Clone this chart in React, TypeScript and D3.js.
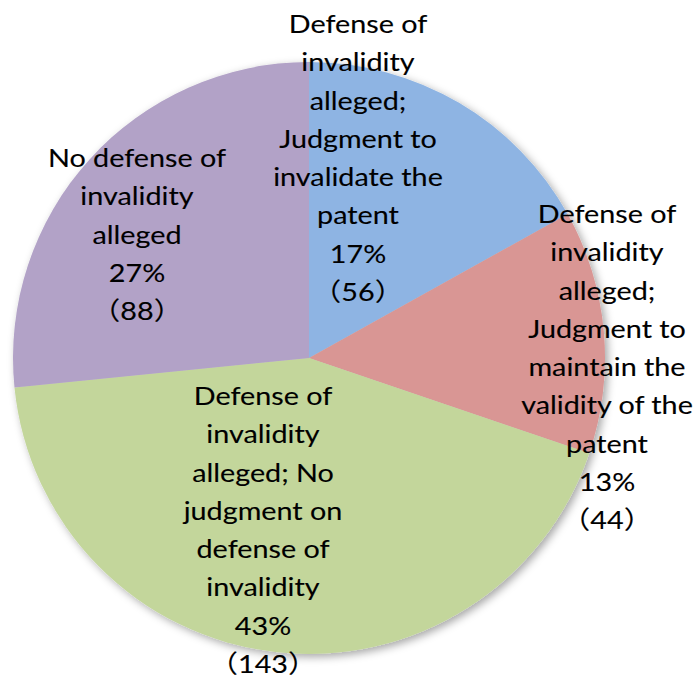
import { useEffect, useRef } from 'react';
import * as d3 from 'd3';

// slice data, clockwise from 12 o'clock
const categories = [
  'Defense of invalidity alleged; Judgment to invalidate the patent',
  'Defense of invalidity alleged; Judgment to maintain the validity of the patent',
  'Defense of invalidity alleged; No judgment on defense of invalidity',
  'No defense of invalidity alleged',
];
const counts = [56, 44, 143, 88];
const percents = ['17%', '13%', '43%', '27%'];
const labelLines = [
  ['Defense of', 'invalidity', 'alleged;', 'Judgment to', 'invalidate the', 'patent'],
  ['Defense of', 'invalidity', 'alleged;', 'Judgment to', 'maintain the', 'validity of the', 'patent'],
  ['Defense of', 'invalidity', 'alleged; No', 'judgment on', 'defense of', 'invalidity'],
  ['No defense of', 'invalidity', 'alleged'],
];
const colors = ['#8EB4E3', '#D99694', '#C3D69B', '#B2A2C7'];

// label anchors (center x, first baseline y)
const labelAnchors = [
  [358, 33],
  [607, 223],
  [263, 405],
  [137, 167],
];

const W = 698;
const H = 682;
const cx = 309;
const cy = 358;
const radius = 296;
const lineH = 38.3;

export default function App() {
  const svgRef = useRef<SVGSVGElement>(null);

  useEffect(() => {
    if (!svgRef.current) return;
    const svg = d3.select(svgRef.current);
    svg.selectAll('*').remove();

    const defs = svg.append('defs');
    const f = defs.append('filter').attr('id', 'shadow')
      .attr('x', '-10%').attr('y', '-10%').attr('width', '120%').attr('height', '120%');
    f.append('feDropShadow')
      .attr('dx', 3).attr('dy', 3).attr('stdDeviation', 4)
      .attr('flood-color', '#000').attr('flood-opacity', 0.35);

    const pie = d3.pie<number>().sort(null).value(d => d);
    const arcs = pie(counts);
    const arc = d3.arc<d3.PieArcDatum<number>>().innerRadius(0).outerRadius(radius);

    const g = svg.append('g').attr('transform', `translate(${cx},${cy})`);
    g.append('g').attr('filter', 'url(#shadow)')
      .selectAll('path')
      .data(arcs)
      .join('path')
      .attr('d', arc)
      .attr('fill', (d, i) => colors[i]);

    const labels = svg.append('g')
      .attr('font-family', "Lato, 'Noto Sans CJK JP', sans-serif")
      .attr('font-size', 25)
      .attr('fill', '#000')
      .attr('stroke', '#000')
      .attr('stroke-width', 0.12)
      .attr('text-anchor', 'middle');

    categories.forEach((c, i) => {
      const lines = [...labelLines[i], percents[i], `（${counts[i]}）`];
      // text in the reference is a bit stretched horizontally
      const t = labels.append('text')
        .attr('transform', `translate(${labelAnchors[i][0]},${labelAnchors[i][1]}) scale(1.15,1)`);
      lines.forEach((ln, j) => {
        t.append('tspan')
          .attr('x', 0)
          .attr('y', j * lineH)
          .text(ln);
      });
    });
  }, []);

  return (
    <svg
      ref={svgRef}
      width={W}
      height={H}
      style={{ position: 'absolute', left: 0, top: 0, background: '#fff' }}
    />
  );
}
